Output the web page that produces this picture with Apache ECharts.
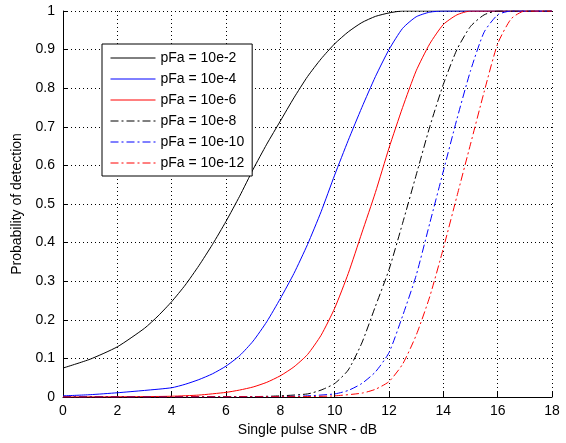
<!DOCTYPE html>
<html>
<head>
<meta charset="utf-8">
<script src="https://cdn.jsdelivr.net/npm/echarts@6/dist/echarts.min.js"></script>
<style>
html,body{margin:0;padding:0;background:#fff;}
#chart{width:566px;height:443px;}
</style>
</head>
<body>
<div id="chart"></div>
<script>
// ---- data ----
const seriesNames = ['pFa = 10e-2','pFa = 10e-4','pFa = 10e-6','pFa = 10e-8','pFa = 10e-10','pFa = 10e-12'];

const snr_pfa2 = [0, 1, 2, 3, 3.5, 4, 4.5, 5, 5.5, 6, 6.5, 7, 7.5, 8, 8.5, 9, 9.5, 10, 10.5, 11, 11.5, 12, 12.5, 18];
const pd_pfa2  = [0.075, 0.098, 0.13, 0.178, 0.21, 0.247, 0.29, 0.34, 0.395, 0.455, 0.52, 0.59, 0.655, 0.715, 0.775, 0.83, 0.876, 0.915, 0.946, 0.97, 0.986, 0.995, 1.0, 1.0];

const snr_pfa4 = [0, 1, 2, 3, 4, 4.5, 5, 5.5, 6, 6.5, 7, 7.5, 8, 8.5, 9, 9.5, 10, 10.5, 11, 11.5, 12, 12.5, 13, 13.5, 14, 18];
const pd_pfa4  = [0.003, 0.006, 0.011, 0.017, 0.024, 0.033, 0.045, 0.06, 0.08, 0.107, 0.145, 0.195, 0.255, 0.32, 0.395, 0.48, 0.575, 0.665, 0.75, 0.83, 0.9, 0.955, 0.985, 0.997, 1, 1];

const snr_pfa6 = [0, 3, 4, 5, 6, 6.5, 7, 7.5, 8, 8.5, 9, 9.5, 10, 10.5, 11, 11.5, 12, 12.5, 13, 13.5, 14, 14.5, 15, 18];
const pd_pfa6  = [0, 0.001, 0.002, 0.005, 0.012, 0.018, 0.026, 0.038, 0.055, 0.078, 0.11, 0.16, 0.23, 0.32, 0.425, 0.53, 0.645, 0.75, 0.845, 0.915, 0.965, 0.99, 1, 1];

const snr_pfa8 = [0, 7, 8, 9, 9.5, 10, 10.5, 11, 11.5, 12, 12.5, 13, 13.5, 14, 14.5, 15, 15.5, 16, 18];
const pd_pfa8  = [0, 0.001, 0.003, 0.008, 0.018, 0.035, 0.07, 0.14, 0.235, 0.33, 0.45, 0.575, 0.7, 0.81, 0.9, 0.96, 0.99, 1, 1];

const snr_pfa10 = [0, 8, 9, 10, 10.5, 11, 11.5, 12, 12.5, 13, 13.5, 14, 14.5, 15, 15.5, 16, 16.5, 18];
const pd_pfa10  = [0, 0.001, 0.003, 0.008, 0.017, 0.035, 0.065, 0.115, 0.21, 0.315, 0.45, 0.585, 0.72, 0.845, 0.945, 0.99, 1, 1];

const snr_pfa12 = [0, 9, 10, 11, 11.5, 12, 12.5, 13, 13.5, 14, 14.5, 15, 15.5, 16, 16.5, 17, 18];
const pd_pfa12  = [0, 0.001, 0.003, 0.01, 0.02, 0.04, 0.085, 0.16, 0.26, 0.385, 0.52, 0.655, 0.79, 0.915, 0.98, 1, 1];

const xAxisName = 'Single pulse SNR - dB';
const yAxisName = 'Probability of detection';

// ---- build chart ----
const xs = [snr_pfa2, snr_pfa4, snr_pfa6, snr_pfa8, snr_pfa10, snr_pfa12];
const ys = [pd_pfa2, pd_pfa4, pd_pfa6, pd_pfa8, pd_pfa10, pd_pfa12];
const colors = ['#000000', '#0000ff', '#ff0000', '#000000', '#0000ff', '#ff0000'];
const dashDot = [8, 3, 2, 3];
const types = ['solid', 'solid', 'solid', dashDot, dashDot, dashDot];
const FONT = '"Liberation Sans", Arial, Helvetica, sans-serif';

const series = seriesNames.map((name, i) => ({
  name: name,
  type: 'line',
  symbol: 'none',
  smooth: 0.2,
  clip: true,
  data: xs[i].map((x, k) => [x, ys[i][k]]),
  lineStyle: { color: colors[i], width: 1, type: types[i] },
  itemStyle: { color: colors[i] },
  emphasis: { disabled: true },
  animation: false
}));

const legendData = seriesNames.map((name, i) => ({
  name: name,
  itemStyle: { opacity: 0 },
  lineStyle: { color: colors[i], width: 1, type: types[i] }
}));

const gridLine = { show: true, lineStyle: { color: '#000', width: 1, type: [1, 3] } };

const chart = echarts.init(document.getElementById('chart'), null, { renderer: 'canvas' });
chart.setOption({
  backgroundColor: '#fff',
  animation: false,
  grid: { left: 63, right: 14, top: 11, bottom: 46, containLabel: false },
  legend: {
    orient: 'vertical',
    left: 102,
    top: 44,
    data: legendData,
    itemWidth: 45,
    itemHeight: 14,
    itemGap: 7,
    padding: [7, 8, 6, 8],
    borderColor: '#000',
    borderWidth: 1,
    backgroundColor: '#fff',
    itemStyle: { opacity: 0 },
    lineStyle: { width: 1 },
    textStyle: { fontFamily: FONT, fontSize: 14, color: '#000', lineHeight: 14 },
    selectedMode: false
  },
  xAxis: {
    type: 'value',
    min: 0, max: 18, interval: 2,
    name: xAxisName,
    nameLocation: 'middle',
    nameGap: 17,
    nameTextStyle: { fontFamily: FONT, fontSize: 14, color: '#000' },
    axisLine: { show: true, onZero: false, lineStyle: { color: '#000', width: 1 } },
    axisTick: { show: true, inside: true, length: 5, lineStyle: { color: '#000' } },
    axisLabel: { fontFamily: FONT, fontSize: 14, color: '#000', margin: 7 },
    splitLine: gridLine
  },
  yAxis: {
    type: 'value',
    min: 0, max: 1, interval: 0.1,
    name: yAxisName,
    nameLocation: 'middle',
    nameGap: 37,
    nameTextStyle: { fontFamily: FONT, fontSize: 14, color: '#000' },
    axisLine: { show: true, onZero: false, lineStyle: { color: '#000', width: 1 } },
    axisTick: { show: true, inside: true, length: 5, lineStyle: { color: '#000' } },
    axisLabel: { fontFamily: FONT, fontSize: 14, color: '#000', margin: 8 },
    splitLine: gridLine
  },
  series: series
});
</script>
</body>
</html>
